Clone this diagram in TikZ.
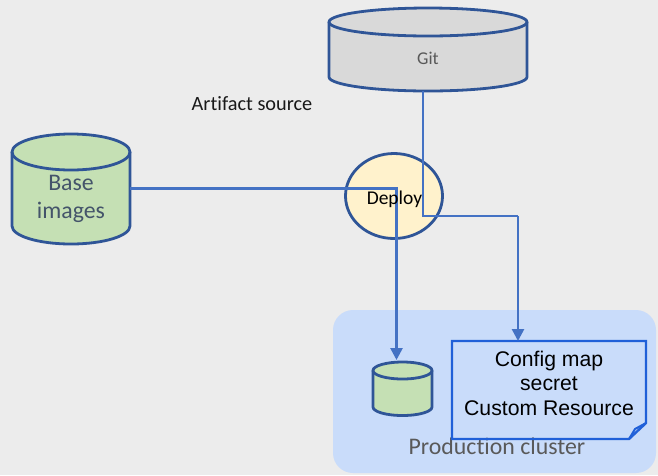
\documentclass[tikz,border=0pt]{standalone}
\usepackage{fontspec}
\setmainfont{Carlito}[Ligatures=NoCommon]
\newfontfamily\arialf{Liberation Sans}
\usetikzlibrary{arrows.meta,shapes.geometric}
\definecolor{bgray}{HTML}{ECECEC}
\definecolor{edge}{HTML}{2F5597}
\definecolor{wire}{HTML}{4472C4}
\definecolor{gitfill}{HTML}{D9D9D9}
\definecolor{greenfill}{HTML}{C5E0B4}
\definecolor{deployfill}{HTML}{FFF2CC}
\definecolor{clusterfill}{HTML}{C9DCFA}
\definecolor{docedge}{HTML}{2060D8}
\definecolor{labelgray}{HTML}{595959}
\definecolor{slate}{HTML}{44546A}
\tikzset{
  cylfill/.style={draw=edge, line width=2.8pt},
  wireline/.style={draw=wire, line width=2.6pt, -{Triangle[length=12pt,width=12pt]}},
  plainwire/.style={draw=wire, line width=2.6pt},
  holder/.style={inner sep=0pt, outer sep=0pt, minimum width=#1},
}
% draw a vertical cylinder: left x, right x, top centre y, bottom centre y, y radius, fill
\newcommand{\vcyl}[6]{%
  \pgfmathsetmacro{\cx}{(#1+#2)/2}%
  \pgfmathsetmacro{\rx}{(#2-#1)/2}%
  \fill[#6] (#1,-#3) -- (#1,-#4) arc[start angle=180,end angle=360,x radius=\rx,y radius=#5]
     -- (#2,-#3) arc[start angle=0,end angle=180,x radius=\rx,y radius=#5] -- cycle;
  \draw[cylfill] (#1,-#3) -- (#1,-#4) arc[start angle=180,end angle=360,x radius=\rx,y radius=#5]
     -- (#2,-#3);
  \draw[cylfill] (\cx,-#3) ellipse[x radius=\rx,y radius=#5];
}
\begin{document}
\begin{tikzpicture}[x=1pt,y=1pt]
  \fill[bgray] (0,0) rectangle (658,-475);
  \useasboundingbox (0,0) rectangle (658,-475);

  % production cluster
  \fill[clusterfill, rounded corners=20pt] (333,-310) rectangle (656,-473);
  \node[text=labelgray, font=\fontsize{23.8}{27}\selectfont] (clusterlbl) at (497,-446) {Production cluster};

  % cylinders
  \vcyl{329}{527}{22}{77}{14}{gitfill}
  \node[holder=198, minimum height=83] (git) at (428,-49.5) {};
  \node[text=labelgray, font=\fontsize{18}{20}\selectfont] (gitlbl) at (428,-58) {Git};

  \vcyl{12}{130}{152}{226}{18}{greenfill}
  \node[holder=118, minimum height=109] (base) at (71,-188.5) {};
  \node[text=slate, align=center, font=\fontsize{23.8}{28}\selectfont] (baselbl) at (71,-199) {Base\\images};

  \vcyl{373}{432}{370.5}{407}{8.5}{greenfill}
  \node[holder=59, minimum height=54] (store) at (402.5,-389) {};

  % deploy step
  \node[ellipse, draw=edge, line width=2.8pt, fill=deployfill, minimum width=97pt,
        minimum height=85pt, inner sep=0pt] (deploy) at (394,-196) {};

  % config document with folded corner
  \node[holder=194, minimum height=98] (doc) at (549,-390) {};
  \draw[docedge, line width=2.4pt, line join=miter]
    (doc.north west) -- (doc.north east) -- ([yshift=16pt]doc.south east)
    -- ([xshift=-17pt]doc.south east) -- (doc.south west) -- cycle;
  \draw[docedge, line width=2pt]
    ([yshift=16pt]doc.south east) -- ([xshift=-11pt,yshift=10pt]doc.south east)
    -- ([xshift=-17pt]doc.south east);
  \node[align=center, font=\arialf\fontsize{21.2}{24.5}\selectfont] (doclbl) at (549,-383)
    {Config map\\secret\\Custom Resource};

  % connectors
  \coordinate (bendgit) at (518,-216);
  \draw[plainwire] ([xshift=-5pt]git.south) |- (bendgit);
  \draw[wireline] (bendgit) -- (bendgit |- doc.north);
  \draw[wireline] (base.east) -| ([xshift=-6pt,yshift=2pt]store.north);

  \node[font=\fontsize{19.5}{23}\selectfont] (deploylbl) at (394.5,-199) {Deploy};
  \node[text=black!90, font=\fontsize{20.3}{23}\selectfont] (artifact) at (252,-104) {Artifact source};
\end{tikzpicture}
\end{document}
